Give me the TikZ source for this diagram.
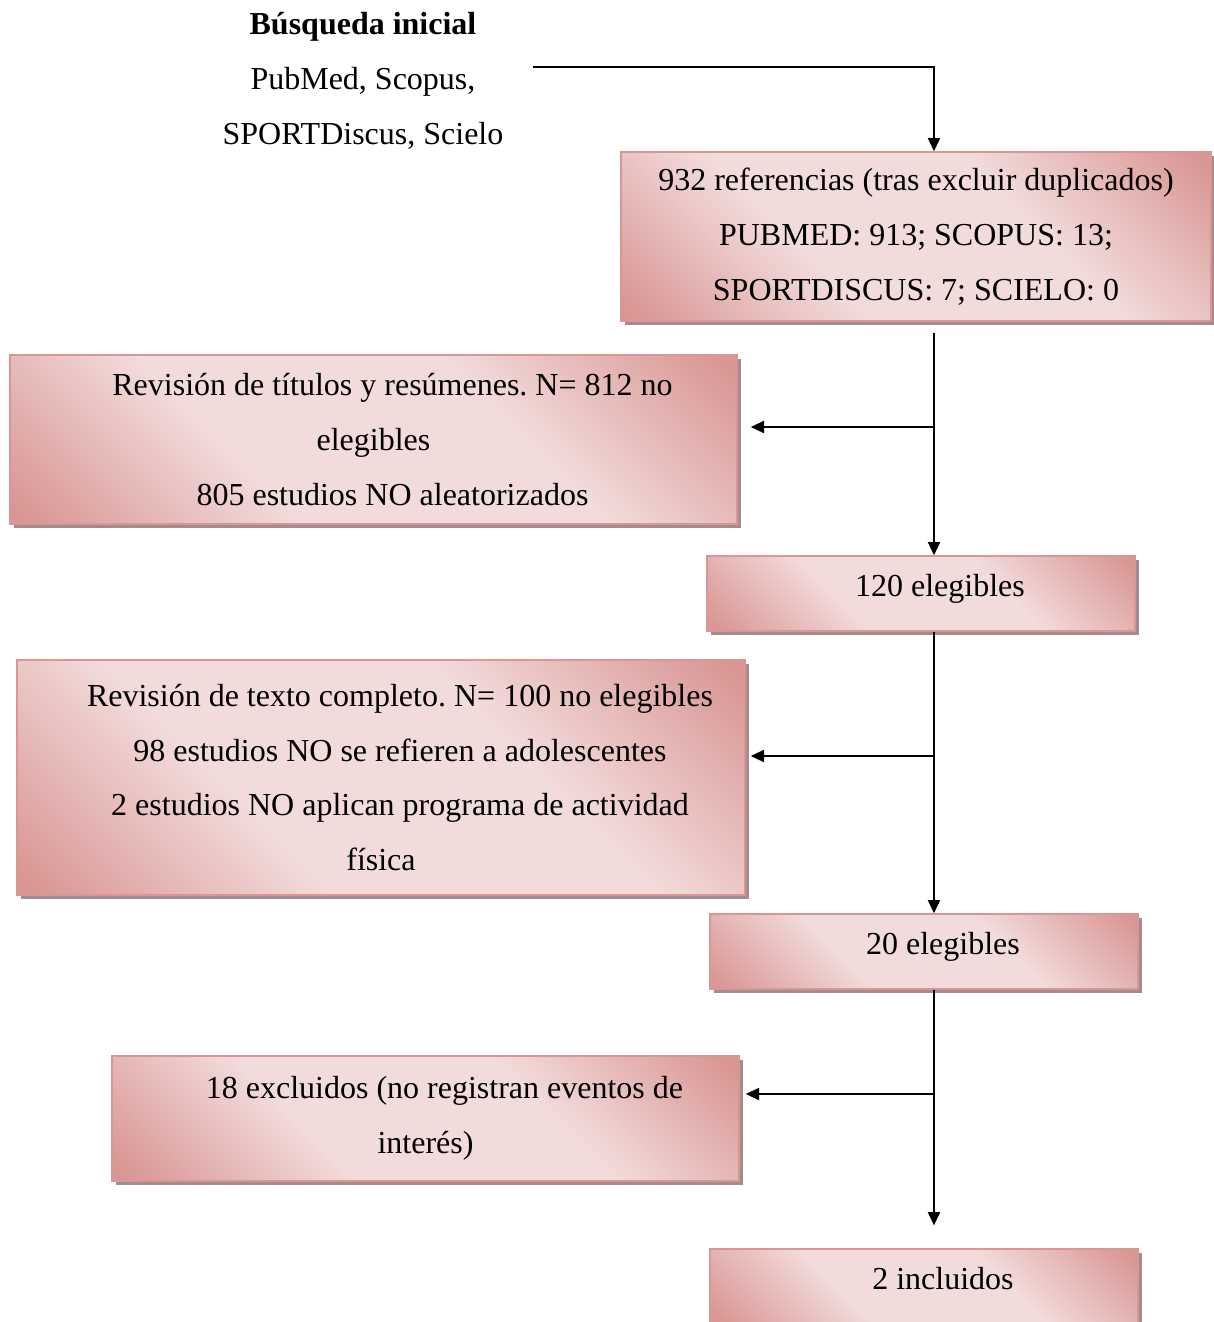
\documentclass[tikz,border=0pt]{standalone}
\usepackage{fontspec}
\setmainfont{Liberation Serif}
\usetikzlibrary{arrows.meta,positioning,shadows,calc}
\frenchspacing

\definecolor{rosaosc}{HTML}{D99694}
\definecolor{rosacla}{HTML}{F2DCDB}
\definecolor{sombra}{RGB}{165,140,140}
\pgfdeclarehorizontalshading{rosado}{100bp}{color(0bp)=(rosaosc); color(16bp)=(rosaosc); color(38bp)=(rosacla); color(62bp)=(rosacla); color(84bp)=(rosaosc); color(100bp)=(rosaosc)}
\newcommand{\sangria}{\hspace*{14.25pt}}
\tikzset{
    caja/.style={rectangle, draw=rosaosc, line width=0.5pt, shading=rosado, shading angle=45, align=center, inner sep=0pt,
        drop shadow={shadow xshift=1.5pt, shadow yshift=-1.5pt, fill=sombra, opacity=1}},
    corta/.style={minimum width=160.5pt, minimum height=28.125pt, text height=8pt, text depth=6pt},
    ar/.style={line width=0.75pt, -{Triangle[length=5pt,width=4.5pt]}}
}

\begin{document}
\begin{tikzpicture}[x=0.375pt, y=-0.375pt, font=\fontsize{12}{20.6}\selectfont]
    \useasboundingbox (0,0) rectangle (1213,1322);

    \node [align=center] (busq) at (363,81) {{\bfseries Búsqueda inicial}\\PubMed, Scopus,\\SPORTDiscus, Scielo};
    \node [caja, minimum width=221.25pt, minimum height=63.375pt] (ref) at (916,236.5) {932 referencias (tras excluir duplicados)\\PUBMED: 913; SCOPUS: 13;\\SPORTDISCUS: 7; SCIELO: 0};
    \node [caja, minimum width=272.625pt, minimum height=63.375pt] (tit) at (373.5,439.5) {\sangria Revisión de títulos y resúmenes. N= 812 no\\elegibles\\\sangria 805 estudios NO aleatorizados};
    \node [caja, corta] (eleg1) at (921,593.5) {\sangria 120 elegibles};
    \node [caja, minimum width=273pt, minimum height=88.125pt] (texto) at (381,777.5) {\sangria Revisión de texto completo. N= 100 no elegibles\\\sangria 98 estudios NO se refieren a adolescentes\\\sangria 2 estudios NO aplican programa de actividad\\física};
    \node [caja, corta] (eleg2) at (924,951.5) {\sangria 20 elegibles};
    \node [caja, minimum width=235.125pt, minimum height=46.875pt] (excl) at (425.5,1118.5) {\sangria 18 excluidos (no registran eventos de\\interés)};
    \node [caja, corta] (incl) at (924,1286.5) {\sangria 2 incluidos};

    % eje vertical y derivaciones
    \coordinate (ini) at (533,67);
    \coordinate (eje) at (934,0);
    \coordinate (d1) at (934,427);
    \coordinate (d2) at (934,756);
    \coordinate (d3) at (934,1094);

    \draw [ar] (ini) -| (eje |- ref.north);
    \draw [ar] ($(eje |- ref.south)+(0,11)$) -- (eje |- eleg1.north);
    \draw [ar, shorten >=4.9pt] (d1) -- (d1 -| tit.east);
    \draw [ar] (eje |- eleg1.south) -- (eje |- eleg2.north);
    \draw [ar, shorten >=1.9pt] (d2) -- (d2 -| texto.east);
    \draw [ar, shorten >=8.6pt] (eje |- eleg2.south) -- (eje |- incl.north);
    \draw [ar, shorten >=2.3pt] (d3) -- (d3 -| excl.east);
\end{tikzpicture}
\end{document}
